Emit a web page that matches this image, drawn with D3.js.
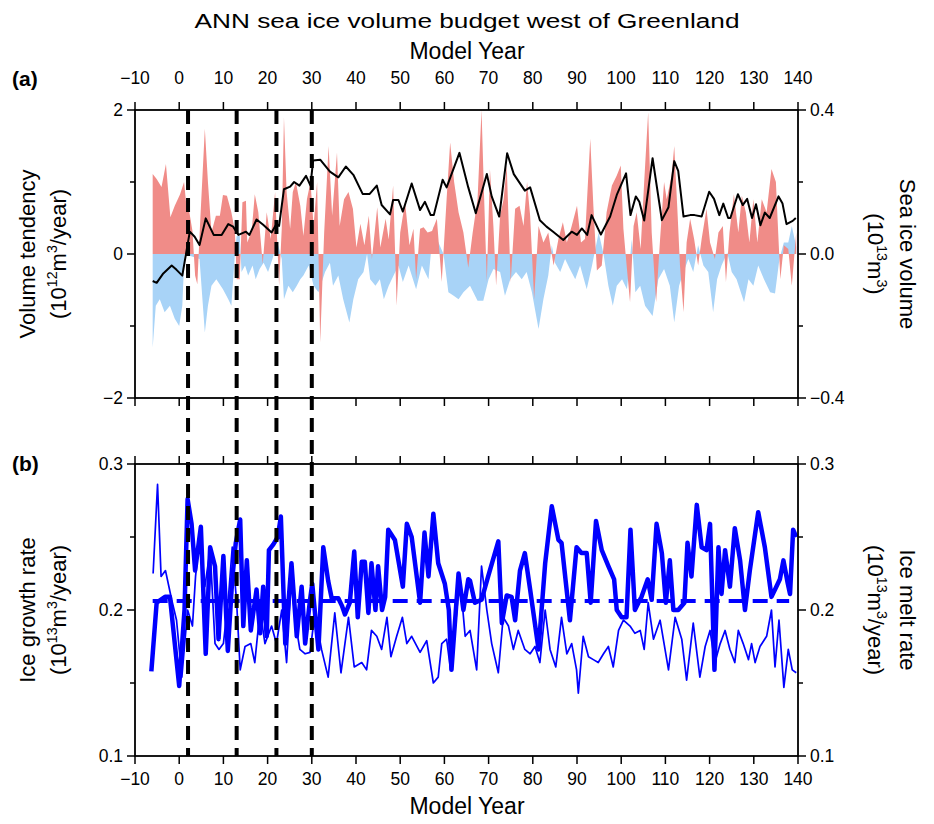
<!DOCTYPE html>
<html><head><meta charset="utf-8">
<script src="https://cdn.jsdelivr.net/npm/d3@7"></script>
<style>
body{margin:0;background:#fff;}
text{font-family:"Liberation Sans",Arial,sans-serif;fill:#000;}
</style></head>
<body><svg id="c" width="934" height="824"></svg>
<script>
// ---------- DATA ----------
const xTicks = [-10,0,10,20,30,40,50,60,70,80,90,100,110,120,130,140];
const eventYears = [2,13,22,30];
const tendTicksMajor = [-2,0,2];
const tendTicksMinor = [-1,1];
const volTicksMajor = [-0.4,0.0,0.4];
const volTicksMinor = [-0.2,0.2];
const rateTicksMajor = [0.1,0.2,0.3];
const rateTicksMinor = [0.15,0.25];
const growthMean = 0.2062;

// (a) thermodynamic volume tendency (red), [year, 10^12 m^3/yr]
const redTend = [[-6,1.11],[-5.1,1.04],[-4,0.93],[-3,1.25],[-2,0.51],[-1,0.67],[0.2,0.83],[1.1,1.0],[1.7,0.63],[2.3,0.58],[3,0.32],[3.6,-0.3],[4.1,-0.42],[4.7,0.39],[5.8,1.74],[6.5,1.0],[7.3,0.3],[8.3,0.53],[9.2,0.53],[9.9,0.82],[10.8,0.81],[11.8,0.58],[12.6,0.32],[13,-0.35],[13.7,-0.35],[14.3,0.72],[15.1,0.74],[15.4,0.16],[16.4,0.32],[17.1,0.83],[17.9,0.58],[18.9,-0.14],[19.8,0.58],[20.7,0.21],[21.7,0.86],[22.6,-0.44],[23.2,0.35],[23.7,1.9],[24.3,0.86],[25.1,0.35],[25.7,0.86],[26.4,1.0],[27.4,0.67],[28.1,0.25],[28.9,0.76],[29.7,1.0],[30.4,0.39],[31.2,1.0],[31.9,-1.23],[32.8,0.3],[33.8,1.5],[34.6,0.53],[35.7,1.41],[36.3,0.39],[37.3,0.76],[38.3,0.86],[39.3,0.63],[40.1,0.09],[41,0.42],[41.9,0.12],[42.9,0.53],[43.6,-0.07],[44.8,0.65],[45.5,0.09],[46.7,0.49],[47.4,0.2],[48.4,0.95],[49.2,-0.72],[50,0.3],[51.1,0.72],[52.1,0.12],[53,0.35],[53.6,-0.35],[54.5,0.35],[55.3,0.37],[56.2,0.3],[57.2,0.32],[58.3,0.49],[59.4,-0.39],[60.5,0.76],[61.3,1.55],[62.2,1.0],[63.2,0.58],[64.3,0.3],[65.4,-0.19],[66.4,0.3],[67.5,0.76],[68.4,2.0],[69,0.76],[69.6,-0.39],[70.3,1.18],[71.1,0.37],[71.7,-0.44],[72.6,0.53],[73.4,0.76],[74.1,1.23],[75,-0.39],[76,0.63],[77,0.67],[77.9,0.39],[78.7,1.0],[79.4,0.53],[80.3,-0.63],[81.3,0.39],[82.4,0.16],[83.5,0.3],[84.7,-0.16],[85.8,0.21],[86.8,0.44],[87.7,0.16],[88.8,0.39],[90,0.67],[90.9,0.16],[91.8,0.21],[93,1.6],[93.7,0.67],[94.5,-0.23],[95.6,-0.16],[96.7,0.58],[97.9,0.95],[99,1.09],[99.9,1.23],[100.5,0.35],[101.3,-0.21],[102,-0.67],[102.8,0.39],[103.5,0.58],[104.4,0.07],[105.2,1.0],[106.1,1.97],[106.9,0.3],[107.9,-0.67],[108.8,0.21],[109.7,1.0],[110.3,0.76],[111.4,1.09],[112,1.5],[112.7,0.63],[113.3,-0.16],[114.1,-0.81],[114.8,0.16],[115.6,0.49],[116.5,0.21],[117.4,-0.16],[118.2,0.21],[119.3,0.63],[120.1,0.16],[121.2,-0.07],[122,0.3],[123,0.39],[123.7,-0.39],[124.5,0.3],[125.5,0.83],[126.5,0.3],[127.3,0.81],[128.2,0.58],[129,0.16],[129.9,0.76],[130.8,0.16],[131.8,0.76],[132.9,0.58],[134,1.18],[135,1.0],[136,-0.35],[136.8,0.12],[137.8,0.07],[138.6,-0.44],[139.6,0.3]];

// (a) dynamic volume tendency (blue), [year, 10^12 m^3/yr]
const blueTend = [[-6,-1.3],[-5.3,-0.72],[-4.4,-0.63],[-3.3,-0.81],[-2.1,-0.72],[-1,-0.9],[0,-1.0],[0.7,-0.72],[1.2,0],[4.6,-0.07],[5.8,-1.09],[6.5,-0.72],[7.3,-0.44],[8.4,-0.35],[9.9,-0.49],[11.1,-0.63],[11.8,-0.72],[12.6,0],[13,0.25],[13.7,0.25],[14.1,-0.25],[14.9,-0.16],[15.6,-0.3],[16.6,-0.16],[17.3,-0.35],[18.2,-0.21],[19.1,-0.12],[20.1,-0.25],[21.1,-0.07],[21.8,0.09],[22.4,0.12],[23.2,-0.07],[23.7,-0.63],[24.7,-0.44],[25.7,-0.53],[26.6,-0.44],[27.4,-0.35],[28.1,-0.3],[29.3,-0.16],[30.4,-0.44],[31.5,-0.53],[33,-0.25],[34.1,-0.12],[34.8,-0.44],[36,-0.3],[37.1,-0.63],[38.5,-0.95],[39.4,-0.63],[40.5,-0.35],[41.7,-0.25],[42.5,0],[43.2,-0.35],[44.4,-0.44],[45.4,-0.35],[46.3,-0.63],[47.4,-0.44],[48.5,-0.3],[49.6,-0.16],[50.6,-0.39],[51.9,-0.16],[53.6,-0.49],[54.9,-0.16],[56.4,-0.35],[57.5,0.39],[58.3,0.21],[59.8,0],[60.9,-0.53],[62.1,-0.58],[63.2,-0.63],[64.3,-0.53],[65.8,-0.44],[67.5,-0.65],[68.8,-0.65],[70,-0.35],[71.1,-0.21],[72.6,-0.25],[73.7,-0.58],[74.9,-0.35],[76.2,-0.25],[77.5,-0.35],[78.6,-0.25],[79.8,-0.53],[81.3,-1.04],[82.4,-0.63],[83.5,-0.3],[84.3,0.12],[85,-0.12],[86.2,-0.25],[87.3,-0.07],[88.4,-0.21],[89.6,-0.35],[90.7,-0.16],[92.2,-0.49],[93.4,-0.16],[94.9,0.3],[96,0],[97.1,-0.44],[98.1,-0.72],[99,-0.44],[100.2,-0.35],[101.3,-0.49],[102.4,0.2],[103.2,-0.53],[104.3,-0.44],[105.4,-0.72],[107.1,-0.86],[108.4,-0.35],[109.7,-0.21],[111,-0.44],[112,-0.95],[113.1,-0.44],[114.1,-0.25],[115.2,-0.07],[116.3,-0.25],[117.4,0.12],[118.6,-0.16],[119.7,-0.25],[120.8,-0.81],[121.7,-0.35],[122.7,-0.16],[124,0.02],[125,-0.25],[126.1,-0.35],[127.8,-0.67],[128.8,-0.35],[129.9,-0.44],[131,-0.16],[132.3,-0.35],[133.7,-0.53],[134.8,-0.55],[135.8,-0.07],[136.8,0.16],[137.8,0.16],[138.6,0.39],[139.6,0.1]];

// (a) sea ice volume (black, right axis), [year, 10^13 m^3]
const iceVolume = [[-6,-0.075],[-5.1,-0.08],[-3.6,-0.054],[-1.7,-0.032],[-0.6,-0.044],[0.7,-0.06],[2.4,0.062],[3.5,0.048],[4.6,0.025],[6,0.099],[7.8,0.053],[9.6,0.053],[11.1,0.083],[12.2,0.076],[13.4,0.053],[15.1,0.062],[15.9,0.053],[17.5,0.096],[19,0.081],[20.9,0.06],[22,0.083],[22.6,0.078],[23.7,0.18],[25.1,0.187],[26,0.2],[27.2,0.19],[28.7,0.217],[29.7,0.19],[30.3,0.26],[31.9,0.262],[34.1,0.229],[36,0.213],[37.7,0.243],[39.4,0.22],[41.5,0.167],[43.1,0.167],[44.7,0.19],[45.8,0.136],[47.7,0.11],[48.4,0.15],[49.6,0.15],[50.6,0.118],[52.6,0.196],[54.5,0.122],[55.6,0.145],[56.9,0.108],[57.6,0.108],[59.6,0.206],[60.5,0.185],[63.4,0.281],[65.4,0.185],[67.1,0.113],[69.6,0.222],[70.7,0.16],[72.4,0.104],[74.2,0.28],[75.7,0.222],[78.2,0.176],[79.4,0.185],[81.6,0.094],[83.1,0.076],[84.6,0.062],[86.9,0.039],[88.8,0.062],[90,0.053],[91.1,0.071],[92.3,0.053],[93.3,0.108],[95.4,0.054],[97.5,0.104],[99,0.164],[101.1,0.224],[102.1,0.108],[103.3,0.16],[104.1,0.145],[105.2,0.093],[107.1,0.266],[109.2,0.094],[110.7,0.13],[112,0.258],[112.9,0.231],[114.1,0.104],[115.6,0.108],[116.6,0.108],[118.2,0.104],[119.9,0.173],[121,0.153],[122.2,0.108],[123.1,0.14],[124.2,0.1],[124.7,0.1],[126.4,0.166],[127.5,0.136],[128.5,0.153],[129.6,0.1],[130.5,0.138],[131.5,0.08],[132.5,0.115],[133.6,0.1],[135.6,0.16],[136.5,0.14],[137.4,0.083],[138.8,0.092],[139.5,0.1]];

// (b) ice growth rate (thick), [year, 10^13 m^3/yr]
const growthRate = [[-6.3,0.158],[-5.1,0.205],[-3.2,0.209],[-2.1,0.209],[0,0.148],[1.2,0.2],[1.9,0.276],[2.8,0.259],[3.6,0.227],[4.9,0.257],[6,0.17],[7,0.243],[8.1,0.23],[8.9,0.18],[10,0.237],[11,0.172],[12,0.221],[12.8,0.246],[13.8,0.262],[14.5,0.189],[15.3,0.234],[16.2,0.186],[17.5,0.214],[18.3,0.184],[19,0.216],[19.8,0.182],[20.3,0.241],[21.3,0.245],[22.3,0.25],[23,0.264],[24,0.177],[25.4,0.232],[26.6,0.182],[27.7,0.216],[28.5,0.177],[29.6,0.207],[30.1,0.218],[31.5,0.173],[32.6,0.243],[33.7,0.22],[34.5,0.208],[36,0.208],[36.8,0.203],[37.5,0.197],[38.6,0.205],[39.6,0.24],[40.4,0.195],[41.3,0.233],[42,0.233],[42.8,0.198],[43.5,0.232],[44.4,0.2],[45,0.23],[45.9,0.2],[46.6,0.209],[47.3,0.255],[48.8,0.248],[50.6,0.216],[51.5,0.259],[52.6,0.25],[54.5,0.205],[55.5,0.253],[56.4,0.223],[57.5,0.266],[58.6,0.232],[60.1,0.218],[61,0.2],[61.6,0.159],[63.2,0.225],[64.3,0.2],[65.4,0.221],[65.8,0.22],[66.9,0.205],[68.4,0.207],[69.9,0.223],[72.2,0.247],[73,0.191],[74.1,0.21],[75.2,0.209],[76,0.193],[77.1,0.227],[78.2,0.239],[79.4,0.214],[81.3,0.173],[82.8,0.232],[84.3,0.271],[85.8,0.248],[86.5,0.246],[88.4,0.193],[89.9,0.243],[91,0.239],[92.2,0.239],[93.1,0.205],[94.3,0.261],[95.6,0.241],[97.1,0.23],[98.4,0.221],[99,0.2],[100.1,0.195],[101.2,0.195],[102.1,0.255],[103.1,0.2],[103.9,0.205],[104.6,0.209],[106,0.221],[106.9,0.207],[108,0.259],[109.2,0.239],[110.1,0.205],[111,0.234],[111.8,0.2],[112.9,0.2],[114.3,0.205],[115,0.246],[115.9,0.223],[117.1,0.272],[118.2,0.243],[119.3,0.241],[120.1,0.259],[121.1,0.159],[122,0.243],[122.7,0.211],[123.5,0.241],[124.6,0.216],[125.7,0.256],[126.9,0.234],[128,0.2],[129.1,0.227],[131,0.267],[132.5,0.243],[134,0.209],[134.8,0.214],[135.9,0.221],[136.7,0.234],[137.7,0.218],[138.2,0.211],[138.9,0.255],[139.6,0.25]];

// (b) ice melt rate (thin), [year, 10^13 m^3/yr]
const meltRate = [[-5.9,0.225],[-4.9,0.286],[-4.1,0.223],[-3.1,0.227],[-1.7,0.207],[-0.6,0.193],[0.6,0.154],[1.9,0.2],[3,0.189],[3.7,0.223],[4.7,0.253],[5.8,0.216],[7,0.241],[8.1,0.177],[9,0.173],[10,0.177],[11.1,0.207],[12,0.243],[13,0.205],[13.8,0.159],[14.9,0.175],[16.2,0.177],[17.1,0.164],[18.3,0.2],[19.4,0.177],[20.9,0.189],[22,0.177],[23.2,0.2],[24.3,0.164],[25.4,0.223],[26.2,0.193],[27.3,0.173],[28.5,0.17],[29.6,0.171],[30.7,0.198],[32.2,0.173],[33.7,0.154],[35.2,0.198],[36.6,0.157],[38.3,0.195],[39.6,0.161],[41.3,0.164],[42.4,0.159],[43.5,0.186],[44.7,0.182],[45.8,0.173],[47,0.195],[47.9,0.168],[49.2,0.182],[50.5,0.195],[51.5,0.177],[52.6,0.182],[54.5,0.171],[56,0.179],[57.5,0.15],[58.6,0.154],[59.4,0.177],[60.5,0.18],[61.4,0.159],[62.4,0.186],[63.5,0.223],[64.7,0.182],[65.8,0.186],[67.3,0.159],[68.4,0.23],[69.6,0.2],[70.7,0.177],[72.2,0.157],[73.3,0.195],[74.5,0.189],[75.6,0.173],[76.7,0.186],[78.2,0.173],[79.4,0.17],[80.5,0.175],[81.6,0.164],[82.8,0.2],[83.9,0.173],[85.2,0.161],[86.5,0.195],[87.7,0.17],[88.8,0.177],[89.9,0.159],[90.3,0.143],[91.4,0.182],[92.6,0.168],[93.7,0.166],[94.8,0.164],[96,0.17],[97.1,0.175],[98.2,0.161],[99.4,0.186],[100.5,0.193],[102,0.189],[103.1,0.184],[104.3,0.186],[105.2,0.173],[106.1,0.205],[107.3,0.18],[108.8,0.193],[110.7,0.159],[112.2,0.195],[113.7,0.18],[114.8,0.152],[116.3,0.191],[117.8,0.154],[119,0.175],[120.1,0.186],[121.2,0.164],[122.4,0.177],[123.5,0.186],[124.6,0.173],[125.7,0.164],[126.5,0.186],[127.6,0.177],[128.8,0.166],[129.5,0.177],[130.3,0.164],[131.4,0.175],[132.9,0.182],[134,0.2],[134.8,0.161],[135.7,0.193],[136.8,0.147],[137.8,0.173],[138.7,0.159],[139.6,0.157]];

// ---------- LAYOUT ----------
const svg = d3.select("#c");
const L = 135, R = 798;
const aTop = 110, aBot = 398, bTop = 464, bBot = 756;
const x = d3.scaleLinear().domain([-10,140]).range([L,R]);
const yT = d3.scaleLinear().domain([-2,2]).range([aBot,aTop]);
const yV = d3.scaleLinear().domain([-0.4,0.4]).range([aBot,aTop]);
const yB = d3.scaleLinear().domain([0.1,0.3]).range([bBot,bTop]);

const defs = svg.append("defs");
defs.append("clipPath").attr("id","clipA").append("rect").attr("x",L).attr("y",aTop).attr("width",R-L).attr("height",aBot-aTop);
defs.append("clipPath").attr("id","clipB").append("rect").attr("x",L).attr("y",bTop).attr("width",R-L).attr("height",bBot-bTop);

// ---------- PANEL A ----------
const gA = svg.append("g").attr("clip-path","url(#clipA)");
const area = d3.area().x(d=>x(d[0])).y0(yT(0)).y1(d=>yT(d[1]));
gA.append("path").datum(blueTend).attr("d",area).attr("fill","#a8d3f7");
gA.append("path").datum(redTend).attr("d",area).attr("fill","#f08c88");
gA.append("path").datum(iceVolume)
  .attr("d",d3.line().x(d=>x(d[0])).y(d=>yV(d[1])))
  .attr("fill","none").attr("stroke","#000").attr("stroke-width",2).attr("stroke-linejoin","round");

// ---------- PANEL B ----------
const gB = svg.append("g").attr("clip-path","url(#clipB)");
const lineB = d3.line().x(d=>x(d[0])).y(d=>yB(d[1]));
gB.append("path").datum(meltRate).attr("d",lineB)
  .attr("fill","none").attr("stroke","#0000ff").attr("stroke-width",1.7).attr("stroke-linejoin","round");
gB.append("line").attr("x1",x(-6)).attr("x2",x(138)).attr("y1",yB(growthMean)).attr("y2",yB(growthMean))
  .attr("stroke","#0000ff").attr("stroke-width",4).attr("stroke-dasharray","15,9");
gB.append("path").datum(growthRate).attr("d",lineB)
  .attr("fill","none").attr("stroke","#0000ff").attr("stroke-width",4.5).attr("stroke-linejoin","round");

// ---------- FRAMES & AXES ----------
function frame(top,bot){
  svg.append("rect").attr("x",L).attr("y",top).attr("width",R-L).attr("height",bot-top)
    .attr("fill","none").attr("stroke","#000").attr("stroke-width",1.8);
}
frame(aTop,aBot); frame(bTop,bBot);

const tickLen = 8;
function xTickMarks(yPos, dir){
  svg.append("g").selectAll("line").data(xTicks).join("line")
    .attr("x1",d=>x(d)).attr("x2",d=>x(d)).attr("y1",yPos).attr("y2",yPos+dir*tickLen)
    .attr("stroke","#000").attr("stroke-width",1.5);
}
xTickMarks(aTop,-1); xTickMarks(aBot,1); xTickMarks(bTop,-1); xTickMarks(bBot,1);

function yTickMarks(scale, vals, xPos, dir, len){
  svg.append("g").selectAll("line").data(vals).join("line")
    .attr("x1",xPos).attr("x2",xPos+dir*len).attr("y1",d=>scale(d)).attr("y2",d=>scale(d))
    .attr("stroke","#000").attr("stroke-width",1.5);
}
yTickMarks(yT, tendTicksMajor, L, -1, tickLen); yTickMarks(yT, tendTicksMinor, L, -1, 5);
yTickMarks(yV, volTicksMajor, R, 1, tickLen); yTickMarks(yV, volTicksMinor, R, 1, 5);
yTickMarks(yB, rateTicksMajor, L, -1, tickLen); yTickMarks(yB, rateTicksMinor, L, -1, 5);
yTickMarks(yB, rateTicksMajor, R, 1, tickLen); yTickMarks(yB, rateTicksMinor, R, 1, 5);

const fmtNeg = s => s.replace("-","\u2212");
const tickFont = 17.5;
svg.append("g").selectAll("text").data(xTicks).join("text")
  .attr("x",d=>x(d)).attr("y",aTop-26).attr("text-anchor","middle").attr("font-size",tickFont)
  .text(d=>fmtNeg(String(d)));
svg.append("g").selectAll("text").data(xTicks).join("text")
  .attr("x",d=>x(d)).attr("y",bBot+29).attr("text-anchor","middle").attr("font-size",tickFont)
  .text(d=>fmtNeg(String(d)));

function yLabels(scale, vals, xPos, anchor, fmt){
  svg.append("g").selectAll("text").data(vals).join("text")
    .attr("x",xPos).attr("y",d=>scale(d)+6).attr("text-anchor",anchor).attr("font-size",tickFont)
    .text(d=>fmtNeg(fmt(d)));
}
yLabels(yT, tendTicksMajor, L-12, "end", d=>String(d));
yLabels(yV, volTicksMajor, R+12, "start", d=>d3.format(".1f")(d));
yLabels(yB, rateTicksMajor, L-12, "end", d=>d3.format(".1f")(d));
yLabels(yB, rateTicksMajor, R+12, "start", d=>d3.format(".1f")(d));

// event dashed lines
svg.append("g").selectAll("line").data(eventYears).join("line")
  .attr("x1",d=>x(d)).attr("x2",d=>x(d)).attr("y1",aTop).attr("y2",bBot)
  .attr("stroke","#000").attr("stroke-width",4).attr("stroke-dasharray","14,8");

// ---------- TEXT ----------
svg.append("text").attr("x",467).attr("y",28).attr("text-anchor","middle").attr("font-size",20)
  .attr("textLength",545).attr("lengthAdjust","spacingAndGlyphs").text("ANN sea ice volume budget west of Greenland");
svg.append("text").attr("x",467).attr("y",59).attr("text-anchor","middle").attr("font-size",23).text("Model Year");
svg.append("text").attr("x",467).attr("y",814).attr("text-anchor","middle").attr("font-size",23).text("Model Year");
svg.append("text").attr("x",12).attr("y",86).attr("font-size",21).attr("font-weight","bold").text("(a)");
svg.append("text").attr("x",12).attr("y",471).attr("font-size",21).attr("font-weight","bold").text("(b)");

function rotLabel(xc, yc, angle, parts, size){
  const t = svg.append("text").attr("transform",`translate(${xc},${yc}) rotate(${angle})`)
    .attr("text-anchor","middle").attr("font-size",size);
  parts.forEach(p=>{
    const s = t.append("tspan").text(p.t);
    if(p.sup){ s.attr("font-size",size*0.65).attr("dy",-size*0.4); }
    else if(p.after){ s.attr("dy",size*0.4); }
  });
}
const unitParts = (e, tail) => [{t:"(10"},{t:e,sup:true},{t:"m",after:true},{t:"3",sup:true},{t:tail,after:true}];
const axFont = 22;
rotLabel(35, 254, -90, [{t:"Volume tendency"}], axFont);
rotLabel(66, 254, -90, unitParts("12","/year)"), axFont);
rotLabel(900, 254, 90, [{t:"Sea ice volume"}], axFont);
rotLabel(868, 254, 90, unitParts("13",")"), axFont);
rotLabel(35, 610, -90, [{t:"Ice growth rate"}], axFont);
rotLabel(66, 610, -90, unitParts("13","/year)"), axFont);
rotLabel(900, 610, 90, [{t:"Ice melt rate"}], axFont);
rotLabel(868, 610, 90, unitParts("13","/year)"), axFont);
</script></body></html>
